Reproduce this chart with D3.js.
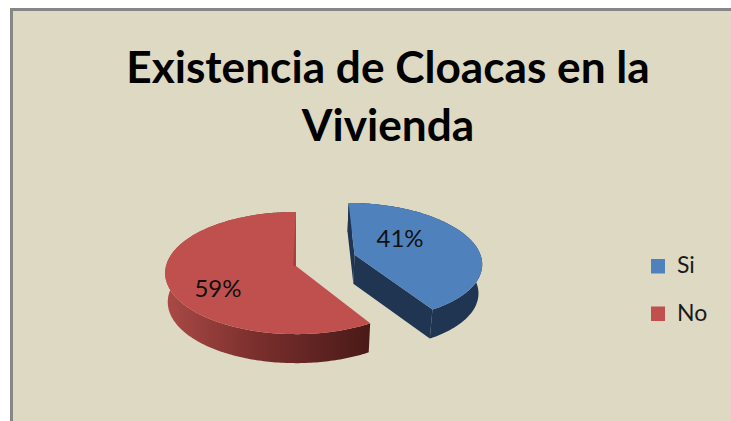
<!DOCTYPE html>
<html><head><meta charset="utf-8">
<script src="https://cdn.jsdelivr.net/npm/d3@7/dist/d3.min.js"></script>
<style>html,body{margin:0;padding:0;background:#fff}svg{display:block}text{font-family:Lato,"Open Sans",sans-serif}</style>
</head><body><svg id="c" width="731" height="421"></svg>
<script>
const titleLines = ["Existencia de Cloacas en la", "Vivienda"];
const categories = ["Si", "No"];
const values = [41.4, 58.6];
const colors = ["#4f81bd", "#c0504d"];
const valueLabels = ["41%", "59%"];

const W = 731, H = 421;
const svg = d3.select("#c");
const defs = svg.append("defs");

// frame
svg.append("rect").attr("x",10).attr("y",8).attr("width",W-10).attr("height",H-8).attr("fill","#868686");
svg.append("rect").attr("x",13).attr("y",11).attr("width",W-13).attr("height",H-11).attr("fill","#ddd9c3");

// title
svg.append("g").selectAll("text").data(titleLines).join("text")
  .attr("x",388).attr("y",(d,i)=>82.5+i*58)
  .attr("text-anchor","middle").attr("font-size",44.2).attr("font-weight",700).attr("fill","#000")
  .text(d=>d);

// pie with perspective projection
const apex = [296,266], rx = 130, ry = 60.3, k = 0.115, depth = 29;
const explode = [[0.46,-0.19],[0,0]];
const sliceRx = [0.99,1];
const deg = Math.PI/180;
function project(X,Y,z){
  const w = 1 - k*Y;
  const s = 1 - 0.02*(z||0);
  return [apex[0]+rx*X/w*s, apex[1]+ry*Y/w+depth*(z||0)];
}
const pie = d3.pie().sort(null).value(d=>d);
const arcs = pie(values);

function rimPoints(d,i){
  const o = explode[i];
  const n = Math.ceil((d.endAngle-d.startAngle)/deg);
  return d3.range(n+1).map(j=>{
    const a = d.startAngle+(d.endAngle-d.startAngle)*j/n;
    return [o[0]+sliceRx[i]*Math.sin(a), o[1]-Math.cos(a)];
  });
}
const line = d3.line();
const at = z => p => project(p[0],p[1],z);

const sideGrad = defs.append("linearGradient").attr("id","sideNo")
  .attr("gradientUnits","userSpaceOnUse").attr("x1",164).attr("x2",368).attr("y1",0).attr("y2",0);
sideGrad.append("stop").attr("offset",0).attr("stop-color","#ab4a47");
sideGrad.append("stop").attr("offset",0.45).attr("stop-color","#7a2f2d");
sideGrad.append("stop").attr("offset",1).attr("stop-color","#4a1a18");
const sideFill = ["#1f3552","url(#sideNo)"];
const wallFill = ["#1f3552","#4a1a18"];

const g = svg.append("g");
arcs.forEach((d,i)=>{
  const rim = rimPoints(d,i);
  const c = explode[i];
  const first = rim[0], last = rim[rim.length-1];
  // cut walls
  [[c,first],[c,last]].forEach(([p,q])=>{
    if (i===1) return; // red cut walls face away from the viewer
    g.append("path").attr("d",line([at(0)(p),at(0)(q),at(1)(q),at(1)(p)])+"Z").attr("fill",wallFill[i]);
  });
  // outer ribbon
  const ribbon = rim.map(at(0)).concat(rim.slice().reverse().map(at(1)));
  g.append("path").attr("d",line(ribbon)+"Z").attr("fill",sideFill[i]);
  // top face
  const face = [c].concat(rim).map(at(0));
  g.append("path").attr("d",line(face)+"Z").attr("fill",colors[i]);
  // thin darker sliver along the red cut at 12 o'clock
  if (i===1) {
    const tip = at(0)(c), top = at(0)(rim[rim.length-1]);
    g.append("path").attr("d",line([top,tip,[tip[0]-3,tip[1]]])+"Z").attr("fill","#a5423f");
  }
});

// value labels
const labelAngleShift = [-22.1,-15.8], labelRadius = [0.486,0.674];
arcs.forEach((d,i)=>{
  const a = (d.startAngle+d.endAngle)/2 + labelAngleShift[i]*deg;
  const o = explode[i];
  const p = project(o[0]+labelRadius[i]*Math.sin(a), o[1]-labelRadius[i]*Math.cos(a), 0);
  svg.append("text").attr("x",p[0]).attr("y",p[1]+9).attr("text-anchor","middle")
    .attr("font-size",24).attr("fill","#111").text(valueLabels[i]);
});

// legend
const ly = d3.scalePoint().domain(categories).range([266,313.5]);
const legend = svg.append("g").selectAll("g").data(categories).join("g");
legend.append("rect").attr("x",651).attr("y",d=>ly(d)-7).attr("width",14).attr("height",14.5)
  .attr("fill",(d,i)=>colors[i]);
legend.append("text").attr("x",677).attr("y",d=>ly(d)+7).attr("font-size",23).attr("fill","#1a1a1a")
  .text(d=>d);
</script></body></html>
